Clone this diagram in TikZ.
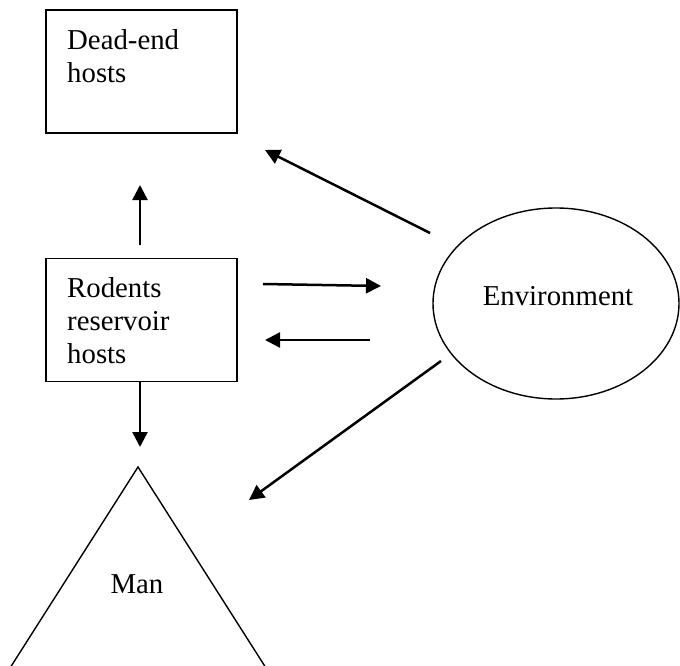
\documentclass[tikz,border=0pt]{standalone}
\usepackage{fontspec}
\setmainfont{Liberation Serif}
\usetikzlibrary{arrows.meta,shapes.geometric}

\tikzset{
  hostbox/.style={draw, line width=1.6pt, minimum width=191pt, minimum height=123pt, inner sep=0pt},
  envshape/.style={draw, ellipse, line width=1.4pt, minimum width=246pt, minimum height=191pt, inner sep=0pt},
  txt/.style={inner sep=0pt, align=left, font=\fontsize{28.8}{33}\selectfont},
  flow/.style={line width=2.5pt, -{Triangle[length=15pt, width=15pt]}},
  manside/.style={line width=1.4pt, line join=miter}
}

\begin{document}
\begin{tikzpicture}[x=1pt, y=-1pt]
  \useasboundingbox (0,0) rectangle (680,666);

  % hosts boxes
  \node[hostbox] (dead) at (141.5,71.5) {};
  \node[txt, anchor=north west] (deadtxt) at (67,29.5) {Dead-end\\hosts};

  \node[hostbox] (rodents) at (141.5,320) {};
  \node[txt, anchor=north west] (rodtxt) at (67,277.5) {Rodents\\reservoir\\hosts};

  % environment
  \node[envshape] (env) at (556,303.5) {};
  \node[txt, anchor=base] (envtxt) at (558,305) {Environment};

  % man: triangle whose base lies below the lower edge
  \coordinate (apex) at (138,467);
  \coordinate (manl) at (10,668);
  \coordinate (manr) at (266,668);
  \draw[manside] (manl) -- (apex) -- (manr);
  \node[txt, anchor=base] (mantxt) at (137,593) {Man};

  % arrow end points
  \coordinate (upS) at (140,245);
  \coordinate (upE) at (140,185);
  \coordinate (edS) at (430,233);
  \coordinate (edE) at (265,150);
  \coordinate (reS) at (263,284);
  \coordinate (reE) at (381,286);
  \coordinate (erS) at (370,340);
  \coordinate (erE) at (265,340);
  \coordinate (emS) at (441,361);
  \coordinate (emE) at (249,500);
  \coordinate (dnE) at (140,447);

  \draw[flow] (upS) -- (upE);
  \draw[flow] (edS) -- (edE);
  \draw[flow] (reS) -- (reE);
  \draw[flow] (erS) -- (erE);
  \draw[flow] (emS) -- (emE);
  \draw[flow] (rodents.south -| dnE) -- (dnE);
\end{tikzpicture}
\end{document}
